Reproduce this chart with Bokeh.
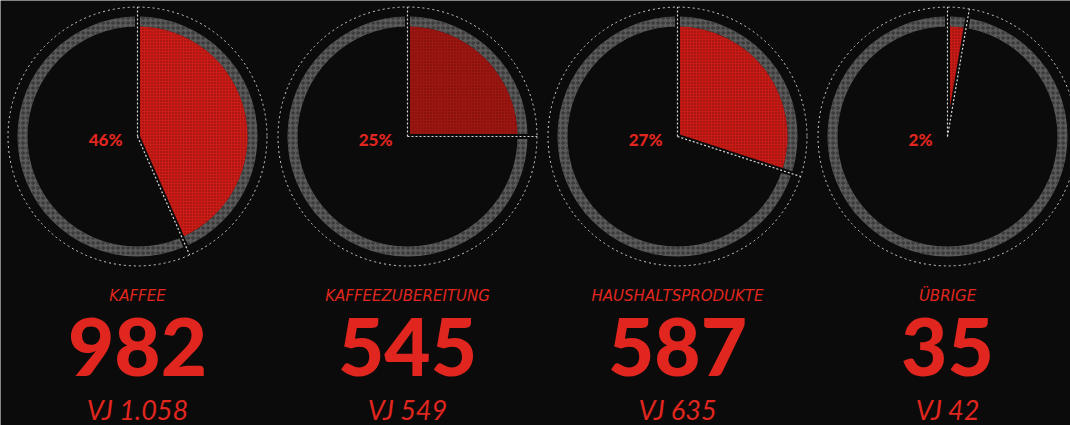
import numpy as np
from bokeh.plotting import figure
from bokeh.models import ColumnDataSource, Range1d
from bokeh.core.properties import value
from bokeh.embed import file_html
from bokeh.resources import INLINE

# ---- data ----
categories = ["KAFFEE", "KAFFEEZUBEREITUNG", "HAUSHALTSPRODUKTE", "ÜBRIGE"]
revenue = ["982", "545", "587", "35"]
previous_year = ["VJ 1.058", "VJ 549", "VJ 635", "VJ 42"]
share_labels = ["46%", "25%", "27%", "2%"]
# slice sizes as drawn in the picture (percent of the circle)
slice_share = [43.4, 25.0, 30.0, 2.7]
wedge_colors = ["#cc1c16", "#9e1611", "#c81b15", "#c81b15"]

# ---- layout (pixel-like data coordinates, y up) ----
W, H = 1070, 425
n = len(categories)
cx = [137 + 270 * i for i in range(n)]
cy = [H - 136] * n
R_WEDGE, R_RING_IN, R_RING_OUT, R_DASH = 110, 110, 120, 129.5

start = np.pi / 2
ends = [start - 2 * np.pi * s / 100.0 for s in slice_share]

p = figure(width=W, height=H, output_backend="svg", toolbar_location=None,
           x_range=Range1d(0, W), y_range=Range1d(0, H),
           background_fill_color="#0b0b0b", border_fill_color="#0b0b0b",
           min_border=0, outline_line_color=None)
p.axis.visible = False
p.grid.visible = False

src = ColumnDataSource(dict(x=cx, y=cy, start=[start] * n, end=ends, color=wedge_colors))

# outer dashed circle
p.circle(x="x", y="y", radius=R_DASH, source=src, fill_color=None,
         line_color="#cfcfcf", line_width=1, line_dash="2 3")

# grey textured ring
p.annulus(x="x", y="y", inner_radius=R_RING_IN, outer_radius=R_RING_OUT, source=src,
          fill_color="#5a5a5a", line_color=None,
          hatch_pattern="ring", hatch_color="#262626", hatch_scale=5, hatch_weight=1, hatch_alpha=0.8)

# red wedge
p.wedge(x="x", y="y", radius=R_WEDGE, start_angle="start", end_angle="end", direction="clock",
        source=src, fill_color="color", line_color=None,
        hatch_pattern="dot", hatch_color="#5a0a08", hatch_scale=3, hatch_weight=1, hatch_alpha=0.7)

# radial separators (black gap + white dashed line)
x0 = cx + cx
y0 = cy + cy
angs = [start] * n + ends
xg = [x + (R_RING_OUT + 1) * np.cos(a) for x, a in zip(x0, angs)]
yg = [y + (R_RING_OUT + 1) * np.sin(a) for y, a in zip(y0, angs)]
xd = [x + R_DASH * np.cos(a) for x, a in zip(x0, angs)]
yd = [y + R_DASH * np.sin(a) for y, a in zip(y0, angs)]
p.segment(x0=x0, y0=y0, x1=xg, y1=yg, line_color="#0b0b0b", line_width=5)
p.segment(x0=x0, y0=y0, x1=xd, y1=yd, line_color="#d8d8d8", line_width=1.2, line_dash="2 2")

# percent labels
src_pct = ColumnDataSource(dict(x=[x - 15 for x in cx], y=[y - 3 for y in cy], t=share_labels))
p.text(x="x", y="y", text="t", source=src_pct, text_font=value("Lato Black"), text_font_style="bold",
       text_font_size="17px", text_color="#e0261e", text_align="right", text_baseline="middle")

# category labels
src_cat = ColumnDataSource(dict(x=cx, y=[H - 295] * n, t=categories))
p.text(x="x", y="y", text="t", source=src_cat, text_font=value("DejaVu Sans"), text_font_style="italic",
       text_font_size="15px", text_color="#e0261e", text_align="center", text_baseline="middle")

# big numbers
src_num = ColumnDataSource(dict(x=cx, y=[H - 346] * n, t=revenue))
p.text(x="x", y="y", text="t", source=src_num, text_font=value("Lato Black"), text_font_style="bold",
       text_font_size="80px", text_color="#e0261e", text_align="center", text_baseline="middle")

# previous year
src_vj = ColumnDataSource(dict(x=cx, y=[H - 409] * n, t=previous_year))
p.text(x="x", y="y", text="t", source=src_vj, text_font=value("Lato"), text_font_style="italic",
       text_font_size="27px", text_color="#e0261e", text_align="center", text_baseline="middle")

open("out.html", "w").write(file_html(p, INLINE))
